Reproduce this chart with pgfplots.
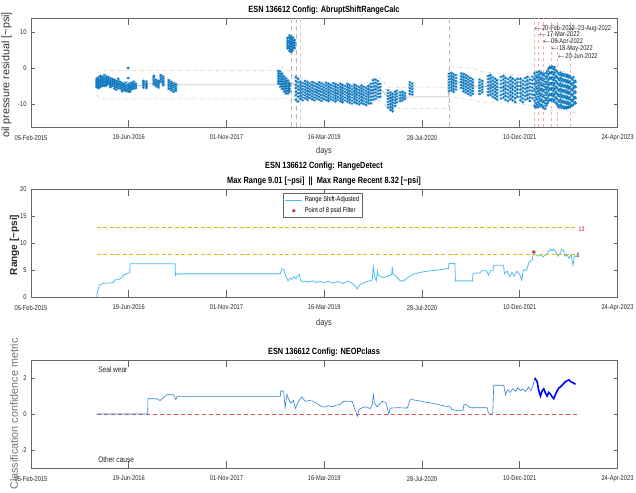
\documentclass[border=0pt]{standalone}
\usepackage{fontspec}
\setmainfont{Liberation Sans}[FakeStretch=0.82]
\newfontfamily\rotfont{Liberation Sans}
\usepackage{pgfplots}
\usepackage{pgfplotstable}
\pgfplotsset{compat=1.18}
\definecolor{mblue}{RGB}{0,114,189}
\definecolor{lblue}{RGB}{77,190,238}
\definecolor{nblue}{RGB}{45,130,210}
\definecolor{myel}{RGB}{237,177,32}
\definecolor{mdred}{RGB}{162,20,47}
\definecolor{mred}{RGB}{232,80,80}
\definecolor{pinkl}{RGB}{250,170,170}
\pgfplotsset{mat/.style={scale only axis, width=586.5pt, xmin=0, xmax=3000,
  xtick={0,500,...,3000},
  xticklabels={05-Feb-2015,19-Jun-2016,01-Nov-2017,16-Mar-2019,28-Jul-2020,10-Dec-2021,24-Apr-2023},
  axis line style={black!60, line width=0.5pt},
  tick style={black!60, line width=0.6pt},
  xtick style={/pgfplots/major tick length=7pt},
  ytick style={/pgfplots/major tick length=4pt},
  tick align=inside,
  ticklabel style={font=\fontsize{7}{8}\selectfont, text=black!85},
  xticklabel style={yshift=-4.5pt},
  yticklabel style={xshift=-1pt},
  anchor=south west},
  sc/.style={mblue, only marks, mark=asterisk, mark size=1.6pt, mark options={line width=0.45pt}}}

\pgfplotstableread{
x a b c d e f g
336 -3.0 -3.6 -4.2 -4.8 -5.3 nan nan
346 -2.6 -3.3 -3.9 -4.5 -5.1 -5.6 nan
356 -2.2 -2.9 -3.5 -4.1 -4.7 -5.2 nan
366 -2.5 -3.1 -3.7 -4.3 -4.9 nan nan
376 -2.0 -2.7 -3.3 -3.9 -4.5 -5.0 nan
386 -2.4 -3.0 -3.6 -4.2 -4.8 nan nan
396 -2.6 -3.2 -3.8 -4.4 nan nan nan
406 -2.9 -3.5 -4.1 -4.7 -5.3 nan nan
416 -3.1 -3.7 -4.3 -4.9 nan nan nan
426 -3.3 -3.9 -4.5 -5.1 -5.7 nan nan
436 -3.6 -4.2 -4.8 -5.4 -6.0 nan nan
446 -3.0 -3.7 -4.4 -5.0 -5.6 nan nan
456 -3.9 -4.5 -5.1 -5.7 nan nan nan
466 -4.2 -4.8 -5.4 -6.0 -6.5 nan nan
476 -4.4 -5.0 -5.6 -6.2 nan nan nan
486 -4.0 -4.7 -5.3 -5.9 -6.4 nan nan
497 0.0 -2.8 -4.6 -5.2 -5.8 -6.5 nan
506 -4.3 -4.9 -5.5 -6.1 -6.6 nan nan
516 -4.1 -4.7 -5.3 -5.9 nan nan nan
526 -3.8 -4.5 -5.1 -5.7 nan nan nan
536 -4.4 -5.0 -5.6 nan nan nan nan
575 -3.6 -4.2 -4.8 -5.4 nan nan nan
590 -3.8 -4.4 -5.0 -5.5 nan nan nan
628 -2.2 -2.8 -3.4 -4.0 -4.6 nan nan
640 -3.3 -3.9 -4.5 -5.1 nan nan nan
652 -3.6 -4.2 -4.8 -5.4 nan nan nan
664 -2.0 -2.6 -3.2 -3.8 nan nan nan
676 -2.4 -3.0 -3.6 -4.2 -4.8 nan nan
705 -3.4 -4.0 -4.6 -5.2 -5.8 nan nan
717 -3.8 -4.4 -5.0 -5.6 -6.2 nan nan
729 -4.2 -4.8 -5.4 -6.0 -6.6 nan nan
741 -4.5 -5.1 -5.7 -6.3 nan nan nan
1265 -0.8 -1.5 -2.2 -2.9 -3.6 -4.3 nan
1275 -1.0 -1.7 -2.4 -3.1 -3.8 -4.5 -5.2
1285 -1.6 -2.3 -3.0 -3.7 -4.4 -5.1 -5.8
1295 -2.4 -3.1 -3.8 -4.5 -5.2 -5.9 -6.6
1305 -2.9 -3.6 -4.3 -5.0 -5.7 -6.4 -7.1
1315 -3.5 -4.2 -4.9 -5.6 -6.3 -7.0 nan
1323 -4.4 -5.1 -5.8 -6.5 nan nan nan
1313 5.5 6.2 6.9 7.6 8.3 nan nan
1322 4.8 5.5 6.2 6.9 7.6 8.3 9.0
1331 4.5 5.2 5.9 6.6 7.3 8.0 8.7
1340 4.9 5.6 6.3 7.0 7.7 8.4 nan
1348 5.6 6.3 7.0 7.7 nan nan nan
1355 -2.6 -3.6 -4.6 -5.6 -6.6 -7.6 -8.8
1366 -3.0 -4.0 -5.0 -6.0 -7.0 -8.0 -9.3
1378 -3.8 -4.6 -5.4 -6.2 -7.0 -7.8 -8.6
1390 -4.2 -5.0 -5.8 -6.6 -7.4 -8.2 -9.0
1402 -3.6 -4.4 -5.2 -6.0 -6.8 -7.6 -8.4
1414 -4.0 -4.8 -5.6 -6.4 -7.2 -8.0 -8.8
1426 -4.3 -5.1 -5.9 -6.7 -7.5 -8.3 nan
1438 -3.9 -4.7 -5.5 -6.3 -7.1 -7.9 -8.7
1450 -4.2 -5.0 -5.8 -6.6 -7.4 -8.2 -9.0
1462 -4.5 -5.3 -6.1 -6.9 -7.7 -8.5 nan
1474 -4.0 -4.8 -5.6 -6.4 -7.2 -8.0 -8.8
1486 -4.3 -5.1 -5.9 -6.7 -7.5 -8.3 -9.1
1498 -4.6 -5.4 -6.2 -7.0 -7.8 -8.6 nan
1510 -4.1 -4.9 -5.7 -6.5 -7.3 -8.1 -8.9
1522 -4.4 -5.2 -6.0 -6.8 -7.6 -8.4 -9.2
1534 -4.7 -5.5 -6.3 -7.1 -7.9 -8.7 nan
1546 -4.2 -5.0 -5.8 -6.6 -7.4 -8.2 -9.0
1558 -4.5 -5.3 -6.1 -6.9 -7.7 -8.5 -9.3
1570 -4.8 -5.6 -6.4 -7.2 -8.0 -8.8 nan
1582 -4.4 -5.2 -6.0 -6.8 -7.6 -8.4 -9.2
1594 -4.7 -5.5 -6.3 -7.1 -7.9 -8.7 -9.5
1606 -5.0 -5.8 -6.6 -7.4 -8.2 -9.0 nan
1618 -4.5 -5.3 -6.1 -6.9 -7.7 -8.5 -9.3
1630 -4.8 -5.6 -6.4 -7.2 -8.0 -8.8 -9.6
1642 -5.1 -5.9 -6.7 -7.5 -8.3 -9.1 -9.9
1654 -4.7 -5.5 -6.3 -7.1 -7.9 -8.7 -9.5
1666 -5.0 -5.8 -6.6 -7.4 -8.2 -9.0 -9.8
1678 -5.3 -6.1 -6.9 -7.7 -8.5 -9.3 -10.1
1690 -4.9 -5.7 -6.5 -7.3 -8.1 -8.9 -9.7
1702 -5.2 -6.0 -6.8 -7.6 -8.4 -9.2 -10.0
1714 -5.5 -6.3 -7.1 -7.9 -8.7 -9.5 -10.3
1726 -5.0 -5.8 -6.6 -7.4 -8.2 -9.0 -9.8
1738 -4.4 -5.3 -6.2 -7.1 -8.0 -8.9 -9.8
1750 -3.4 -4.3 -5.2 -6.1 -7.0 -7.9 -8.8
1762 -3.2 -4.1 -5.0 -5.9 -6.8 -7.7 -8.6
1774 -3.6 -4.5 -5.4 -6.3 -7.2 -8.1 nan
1786 -4.4 -5.3 -6.2 -7.1 -8.0 nan nan
1826 -6.2 -7.0 -7.8 -8.6 -9.4 -10.2 -11.0
1838 -6.8 -7.6 -8.4 -9.2 -10.0 -10.8 -11.6
1850 -7.2 -8.0 -8.8 -9.6 -10.4 -11.2 -12.0
1862 -6.6 -7.4 -8.2 -9.0 -9.8 -10.6 nan
1872 -6.3 -7.1 -7.9 -8.7 -9.5 nan nan
1888 -6.8 -7.6 -8.4 -9.2 nan nan nan
1900 -6.6 -7.4 -8.2 -9.0 nan nan nan
1912 -7.0 -7.8 -8.6 nan nan nan nan
1938 -4.0 -4.8 -5.6 -6.4 -7.2 nan nan
1950 -4.3 -5.1 -5.9 -6.7 -7.4 nan nan
2138 -1.6 -2.4 -3.2 -4.0 -4.8 -5.6 -6.4
2150 -1.4 -2.2 -3.0 -3.8 -4.6 -5.4 -6.2
2162 -1.8 -2.6 -3.4 -4.2 -5.0 -5.8 -6.6
2174 -2.0 -2.8 -3.6 -4.4 -5.2 -6.0 nan
2200 -1.5 -2.3 -3.1 -3.9 -4.7 -5.5 nan
2212 -1.7 -2.5 -3.3 -4.1 -4.9 -5.7 -6.5
2224 -2.0 -2.8 -3.6 -4.4 -5.2 -6.0 -6.8
2236 -2.4 -3.2 -4.0 -4.8 -5.6 -6.4 -7.2
2248 -2.8 -3.6 -4.4 -5.2 -6.0 -6.8 -7.6
2260 -3.2 -4.0 -4.8 -5.6 -6.4 -7.2 nan
2294 -3.2 -4.0 -4.8 -5.6 -6.4 -7.2 nan
2308 -3.6 -4.4 -5.2 -6.0 -6.8 nan nan
2338 -2.2 -3.1 -4.0 -4.9 -5.8 -6.7 -7.6
2350 -2.0 -2.9 -3.8 -4.7 -5.6 -6.5 -7.4
2362 -2.6 -3.5 -4.4 -5.3 -6.2 -7.1 -8.0
2374 -3.0 -3.9 -4.8 -5.7 -6.6 -7.5 -8.4
2384 -3.4 -4.3 -5.2 -6.1 -7.0 -7.9 -8.8
2404 -2.5 -3.5 -4.5 -5.5 -6.5 -7.5 -8.5
2416 -2.2 -3.2 -4.2 -5.2 -6.2 -7.2 -8.2
2428 -2.8 -3.8 -4.8 -5.8 -6.8 -7.8 -8.8
2440 -3.1 -4.1 -5.1 -6.1 -7.1 -8.1 -9.1
2452 -2.6 -3.6 -4.6 -5.6 -6.6 -7.6 -8.6
2464 -3.0 -4.0 -5.0 -6.0 -7.0 -8.0 -9.0
2476 -3.4 -4.4 -5.4 -6.4 -7.4 -8.4 -9.4
2488 -3.0 -4.0 -5.0 -6.0 -7.0 -8.0 nan
2504 -3.0 -4.0 -5.0 -6.0 -7.0 -8.0 -9.0
2516 -3.5 -4.5 -5.5 -6.5 -7.5 -8.5 -9.5
2528 -2.8 -3.8 -4.8 -5.8 -6.8 -7.8 -8.8
2540 -2.5 -3.5 -4.5 -5.5 -6.5 -7.5 -8.5
2552 -3.2 -4.2 -5.2 -6.2 -7.2 -8.2 -9.2
2564 -2.4 -3.4 -4.4 -5.4 -6.4 -7.4 -8.4
2576 -1.5 -3.0 -4.5 -6.0 -7.5 -9.0 -10.5
2582 -2.2 -3.7 -5.2 -6.7 -8.2 -9.7 -11.0
2588 -1.2 -2.7 -4.2 -5.7 -7.2 -8.7 -10.2
2594 -1.9 -3.4 -4.9 -6.4 -7.9 -9.4 -10.8
2600 -1.0 -2.5 -4.0 -5.5 -7.0 -8.5 -10.0
2606 -1.7 -3.2 -4.7 -6.2 -7.7 -9.2 -10.6
2612 -1.3 -2.8 -4.3 -5.8 -7.3 -8.8 -10.3
2618 -2.0 -3.5 -5.0 -6.5 -8.0 -9.5 -11.0
2624 -1.6 -3.1 -4.6 -6.1 -7.6 -9.1 -10.6
2630 -2.3 -3.8 -5.3 -6.8 -8.3 -9.8 -11.3
2636 -1.4 -2.9 -4.4 -5.9 -7.4 -8.9 -10.4
2642 -0.8 -2.3 -3.8 -5.3 -6.8 -8.3 -9.8
2648 -0.2 -1.7 -3.2 -4.7 -6.2 -7.7 -9.2
2654 0.3 -1.2 -2.7 -4.2 -5.7 -7.2 -8.7
2660 0.0 -1.5 -3.0 -4.5 -6.0 -7.5 -9.0
2666 0.4 -1.1 -2.6 -4.1 -5.6 -7.1 -8.6
2672 -0.3 -1.8 -3.3 -4.8 -6.3 -7.8 -9.3
2678 0.2 -1.3 -2.8 -4.3 -5.8 -7.3 -8.8
2684 -0.6 -2.1 -3.6 -5.1 -6.6 -8.1 -9.6
2690 -1.0 -2.5 -4.0 -5.5 -7.0 -8.5 -10.0
2696 -1.5 -3.0 -4.5 -6.0 -7.5 -9.0 -10.5
2702 -1.9 -3.4 -4.9 -6.4 -7.9 -9.4 -10.9
2708 -1.3 -2.8 -4.3 -5.8 -7.3 -8.8 -10.3
2714 -2.0 -3.5 -5.0 -6.5 -8.0 -9.5 -11.0
2720 -1.6 -3.1 -4.6 -6.1 -7.6 -9.1 -10.6
2726 -2.2 -3.7 -5.2 -6.7 -8.2 -9.7 -11.2
2732 -1.8 -3.3 -4.8 -6.3 -7.8 -9.3 -10.8
2738 -2.4 -3.9 -5.4 -6.9 -8.4 -9.9 -11.2
2744 -2.0 -3.5 -5.0 -6.5 -8.0 -9.5 -10.9
2750 -2.6 -4.1 -5.6 -7.1 -8.6 -10.1 -11.0
2756 -2.2 -3.7 -5.2 -6.7 -8.2 -9.7 -10.8
2762 -2.8 -4.3 -5.8 -7.3 -8.8 -10.3 nan
2768 -3.2 -4.7 -6.2 -7.7 -9.2 -10.5 nan
2774 -2.6 -4.1 -5.6 -7.1 -8.6 -10.1 nan
2780 -3.5 -5.0 -6.5 -8.0 -9.5 nan nan
2786 -3.8 -5.3 -6.8 -8.3 -9.8 nan nan
}\scat

\begin{document}
\begin{tikzpicture}
\path[use as bounding box] (0,0) rectangle (636pt,492pt);

% ---------------- top ----------------
\begin{axis}[mat, at={(31pt,365pt)}, height=109pt, ymin=-16.4, ymax=13.9,
  ytick={-10,0,10}, yticklabels={-10,0,10}]
\addplot[sc] table[x=x,y=a] {\scat};
\addplot[sc] table[x=x,y=b] {\scat};
\addplot[sc] table[x=x,y=c] {\scat};
\addplot[sc] table[x=x,y=d] {\scat};
\addplot[sc] table[x=x,y=e] {\scat};
\addplot[sc] table[x=x,y=f] {\scat};
\addplot[sc] table[x=x,y=g] {\scat};
% median
\addplot[gray!70, line width=0.5pt] coordinates {(336,-4.2) (380,-3.6) (420,-4.0) (460,-4.9) (500,-5.1) (540,-5.0) (580,-4.6) (640,-4.2) (700,-4.8) (750,-4.7) (1262,-4.7) (1280,-3.3) (1300,-4.5) (1320,-5.2) (1335,-4.0) (1350,-5.0) (1380,-6.0) (1420,-6.3) (1480,-6.5) (1550,-6.7) (1620,-7.0) (1700,-7.3) (1740,-6.8) (1765,-5.3) (1790,-6.0) (1830,-8.2) (1860,-8.8) (1900,-8.3) (1950,-8.0) (2135,-8.0) (2140,-3.8) (2180,-4.0) (2220,-4.2) (2260,-5.0) (2300,-5.3) (2350,-5.0) (2400,-5.5) (2450,-5.2) (2500,-6.0) (2540,-5.3) (2580,-5.8) (2620,-6.2) (2660,-5.2) (2700,-6.0) (2740,-6.0) (2790,-6.2)};
% envelopes
\addplot[gray!45, line width=0.5pt, dash dot] coordinates {(336,-1.5) (360,-0.7) (750,-0.7) (1262,-0.7) (1280,0.5) (1300,-0.5) (1330,-1.0) (1350,-2.0) (1400,-3.5) (1500,-3.8) (1600,-4.2) (1700,-4.5) (1740,-3.5) (1765,-2.0) (1790,-3.0) (1830,-5.5) (1950,-5.3) (2135,-5.3) (2140,0.3) (2260,0.0) (2300,-1.0) (2400,-1.5) (2500,-2.0) (2580,-1.0) (2660,0.0) (2700,-0.8) (2790,-1.2)};
\addplot[gray!45, line width=0.5pt, dash dot] coordinates {(336,-7.5) (360,-8.6) (750,-8.6) (1262,-8.6) (1300,-8.3) (1330,-9.0) (1350,-8.5) (1400,-8.8) (1500,-9.0) (1600,-9.5) (1700,-10.0) (1740,-10.2) (1765,-9.0) (1790,-9.5) (1830,-11.2) (1950,-11.2) (2135,-11.2) (2140,-8.0) (2260,-9.0) (2300,-9.5) (2400,-9.5) (2500,-10.0) (2580,-10.5) (2640,-12.0) (2700,-11.5) (2790,-12.5)};
% vertical dashed gray
\addplot[gray!55, line width=0.9pt, dash pattern=on 5pt off 3pt] coordinates {(1331,-16.4) (1331,13.9)};
\addplot[gray!55, line width=0.9pt, dash pattern=on 5pt off 3pt] coordinates {(1357,-16.4) (1357,13.9)};
\addplot[gray!35, line width=0.6pt, dash pattern=on 4pt off 3pt] coordinates {(1377,-16.4) (1377,13.9)};
\addplot[gray!55, line width=0.9pt, dash pattern=on 5pt off 3pt] coordinates {(2140,-16.4) (2140,13.9)};
% red event lines
\addplot[pinkl, line width=0.5pt, dashed] coordinates {(2572,-16.4) (2572,13.9)};
\addplot[pinkl, line width=0.5pt, dashed] coordinates {(2597,-16.4) (2597,13.9)};
\addplot[pinkl, line width=0.5pt, dashed] coordinates {(2619,-16.4) (2619,13.9)};
\addplot[pinkl, line width=0.5pt, dashed] coordinates {(2659,-16.4) (2659,13.9)};
\addplot[pinkl, line width=0.5pt, dashed] coordinates {(2692,-16.4) (2692,13.9)};
\addplot[pinkl, line width=0.5pt, dashed] coordinates {(2756,-16.4) (2756,13.9)};
\begin{scope}[every node/.style={anchor=west, inner sep=0pt, font=\fontsize{7}{8}\selectfont, text=black!85}]
\node at (axis cs:2572,11.0) {$\leftarrow$20-Feb-2022};
\node at (axis cs:2756,11.0) {$\leftarrow$23-Aug-2022};
\node at (axis cs:2597,9.3) {$\leftarrow$17-Mar-2022};
\node at (axis cs:2619,7.4) {$\leftarrow$08-Apr-2022};
\node at (axis cs:2659,5.4) {$\leftarrow$18-May-2022};
\node at (axis cs:2692,3.4) {$\leftarrow$20-Jun-2022};
\end{scope}
\end{axis}

% ---------------- middle ----------------
\begin{axis}[mat, at={(31pt,195pt)}, height=107.5pt, ymin=0, ymax=20,
  ytick={0,5,10,15,20}, yticklabels={0,5,10,15,20},
  legend style={at={(0.43,0.967)}, anchor=north west, font=\fontsize{7}{8}\selectfont,
    draw=black!60, line width=0.5pt, inner sep=1.5pt, row sep=0pt},
  legend cell align=left]
\addplot[lblue, line width=0.8pt] coordinates {(336,0) (340,1.0) (350,2.2) (360,2.4) (379,2.6) (404,2.6) (420,2.7) (430,3.2) (445,3.2) (460,3.5) (470,4.0) (481,4.2) (495,4.4) (505,4.5) (507,6.2) (737,6.2) (739,4.0) (745,4.3) (1275,4.3) (1282,5.2) (1292,5.2) (1300,4.2) (1308,3.5) (1315,3.0) (1325,3.5) (1335,3.3) (1345,3.8) (1355,3.4) (1365,3.9) (1372,4.2) (1380,3.0) (1390,2.9) (1403,2.9) (1420,2.8) (1440,3.0) (1460,2.7) (1480,2.9) (1500,2.7) (1520,2.9) (1546,2.6) (1570,2.9) (1597,2.5) (1620,3.0) (1640,2.6) (1655,2.2) (1669,1.5) (1680,2.2) (1700,2.6) (1720,2.9) (1736,3.0) (1745,3.2) (1751,5.7) (1758,3.8) (1766,3.0) (1772,4.8) (1777,4.0) (1790,3.8) (1800,3.6) (1820,3.8) (1833,4.0) (1845,4.2) (1848,5.6) (1852,4.2) (1864,4.0) (1880,3.3) (1889,3.0) (1905,3.0) (1950,4.2) (2007,4.7) (2050,4.9) (2100,5.1) (2135,5.3) (2138,6.25) (2168,6.25) (2171,3.0) (2258,3.0) (2262,4.4) (2299,4.5) (2305,4.9) (2330,4.9) (2340,4.1) (2350,4.9) (2363,4.9) (2366,5.9) (2417,5.9) (2422,4.3) (2435,4.8) (2450,3.8) (2460,4.6) (2472,3.9) (2485,4.8) (2500,4.2) (2510,3.1) (2518,5.0) (2535,5.0) (2548,6.5) (2563,6.8) (2570,8.1) (2580,7.9) (2591,7.6) (2605,7.9) (2620,7.5) (2640,8.0) (2657,8.9) (2665,8.6) (2673,8.9) (2685,8.4) (2695,7.6) (2705,8.0) (2715,8.9) (2724,8.7) (2730,7.6) (2742,7.8) (2752,7.2) (2762,7.9) (2772,5.9) (2780,7.6) (2796,7.6)};
\addlegendentry{Range Shift-Adjusted}
\addplot[mdred, only marks, mark=asterisk, mark size=1.8pt, mark options={line width=0.6pt}] coordinates {(2572,8.4)};
\addlegendentry{Point of 8 psid Filter}
\addplot[myel, line width=0.7pt, dash pattern=on 4pt off 2.5pt, forget plot] coordinates {(336,13) (2796,13)};
\addplot[myel, line width=0.7pt, dash pattern=on 4pt off 2.5pt, forget plot] coordinates {(336,8) (2796,8)};
\node[anchor=west, inner sep=0pt, font=\fontsize{6.5}{7}\selectfont, text=mdred] at (axis cs:2800,12.6) {13};
\node[anchor=west, inner sep=0pt, font=\fontsize{6.5}{7}\selectfont, text=black!75] at (axis cs:2790,7.7) {8};
\end{axis}

% ---------------- bottom ----------------
\begin{axis}[mat, at={(31pt,24pt)}, height=108pt, ymin=-3, ymax=3,
  ytick={-2,0,2}, yticklabels={-2,0,2}]
\addplot[mred, line width=0.8pt, dash pattern=on 4pt off 3pt] coordinates {(336,0) (2796,0)};
\addplot[nblue, line width=0.6pt] coordinates {(336,0) (597,0) (598,0.85) (643,0.85) (660,0.75) (695,1.07) (729,1.07) (741,0.8) (748,0.98) (1275,0.98) (1278,1.3) (1292,1.25) (1300,0.35) (1309,1.1) (1318,0.8) (1330,0.6) (1343,0.75) (1352,0.3) (1368,0.7) (1386,0.95) (1403,0.7) (1420,0.75) (1440,0.72) (1460,0.6) (1480,0.45) (1500,0.38) (1520,0.45) (1546,0.4) (1560,0.5) (1580,0.52) (1597,0.7) (1620,0.72) (1644,0.68) (1655,0.3) (1662,0.15) (1669,-0.13) (1678,0.25) (1695,0.35) (1715,0.4) (1735,0.3) (1745,0.5) (1751,1.07) (1757,0.6) (1771,0.4) (1787,0.6) (1795,0.7) (1815,0.65) (1830,0.0) (1838,0.33) (1880,0.35) (1925,0.33) (1940,0.8) (1950,0.8) (2000,0.7) (2050,0.6) (2100,0.48) (2145,0.39) (2154,0.25) (2180,0.2) (2210,0.2) (2215,0.55) (2230,0.5) (2240,0.4) (2248,0.35) (2333,0.35) (2340,0.05) (2362,0.05) (2367,1.6) (2418,1.6) (2427,1.05) (2436,1.35) (2450,1.2) (2465,1.4) (2478,1.25) (2490,1.45) (2504,1.3) (2515,1.4) (2530,1.25) (2545,1.5) (2558,1.3) (2568,1.6) (2577,2.0)};
\addplot[blue, line width=1.6pt] coordinates {(2577,2.0) (2589,1.8) (2597,1.3) (2606,1.0) (2615,1.3) (2623,1.4) (2632,1.15) (2640,1.0) (2648,1.2) (2657,1.1) (2666,0.95) (2674,0.85) (2683,1.1) (2692,1.3) (2700,1.45) (2708,1.5) (2716,1.6) (2725,1.7) (2734,1.8) (2743,1.85) (2752,1.9) (2760,1.8) (2770,1.75) (2785,1.65)};
\node[anchor=west, inner sep=0pt, font=\fontsize{8}{9}\selectfont, text=black!85] at (axis cs:343,2.46) {Seal wear};
\node[anchor=west, inner sep=0pt, font=\fontsize{8}{9}\selectfont, text=black!85] at (axis cs:343,-2.54) {Other cause};
\end{axis}

% titles and labels
\node[font=\fontsize{9}{10}\selectfont\bfseries] at (324pt,481.5pt) {ESN 136612 Config: AbruptShiftRangeCalc};
\node[font=\fontsize{9}{10}\selectfont\bfseries] at (324pt,325.5pt) {ESN 136612 Config: RangeDetect};
\node[font=\fontsize{9}{10}\selectfont\bfseries] at (324pt,311pt) {Max Range 9.01 [\textasciitilde psi]\ \ ||\ \ Max Range Recent 8.32 [\textasciitilde psi]};
\node[font=\fontsize{9}{10}\selectfont\bfseries] at (324pt,140.3pt) {ESN 136612 Config: NEOPclass};
\node[font=\fontsize{9}{10}\selectfont, text=black!80] at (324pt,341pt) {days};
\node[font=\fontsize{9}{10}\selectfont, text=black!80] at (324pt,169pt) {days};
\node[rotate=90, font=\rotfont\fontsize{10.8}{12}\selectfont, text=black!80] at (6.7pt,417pt) {oil pressure residual [\textasciitilde psi]};
\node[rotate=90, font=\rotfont\fontsize{10}{12}\selectfont\bfseries, text=black!85] at (14.5pt,247pt) {Range [\textasciitilde psi]};
\node[rotate=90, font=\rotfont\fontsize{10.8}{12}\selectfont, text=black!55] at (14pt,78pt) {Classification confidence metric};
\end{tikzpicture}
\end{document}
